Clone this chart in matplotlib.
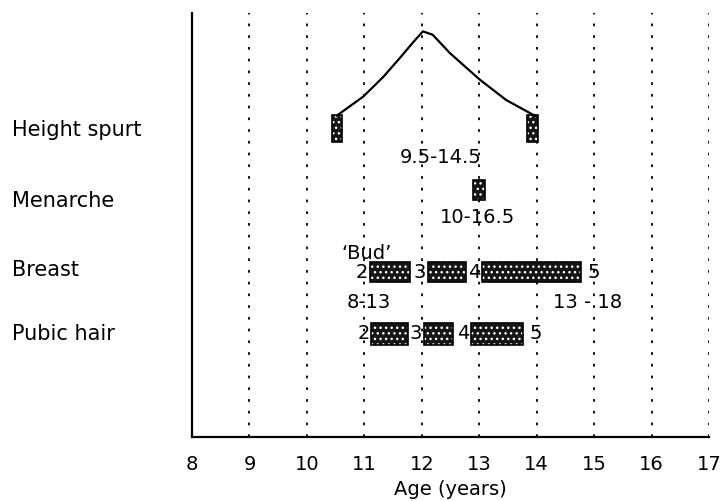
import matplotlib.pyplot as plt
import numpy as np

# rows (bottom to top)
rows = ['Pubic hair', 'Breast', 'Menarche', 'Height spurt']
ages = list(range(8, 18))

# height spurt: velocity curve and start/end bars
curve_age = [10.52, 10.98, 11.33, 11.62, 11.85, 12.02, 12.19, 12.49, 13.01, 13.47, 14.01]
curve_lvl = [4.24, 4.52, 4.81, 5.09, 5.32, 5.48, 5.43, 5.16, 4.77, 4.47, 4.22]
spurt_start = [10.43, 13.83]
spurt_end = [10.61, 14.02]

# menarche
men_start = [12.9]
men_end = [13.1]

# breast stages 2-5
breast_start = [11.1, 12.1, 13.05]
breast_end = [11.8, 12.77, 14.78]
breast_stage = ['2', '3', '4', '5']

# pubic hair stages 2-5
pubic_start = [11.12, 12.03, 12.86]
pubic_end = [11.76, 12.55, 13.77]
pubic_stage = ['2', '3', '4', '5']

plt.rcParams['font.family'] = ['DejaVu Sans']
fig = plt.figure(figsize=(7.2, 5.01), dpi=100)
ax = fig.add_axes([192/720, 1-437/501, 517/720, 424/501])
ax.set_xlim(8, 17)
ax.set_ylim(-0.485, 5.75)

# dotted verticals
ax.vlines(ages[1:], -0.485, 5.75, colors='black', linestyles=(0, (1.5, 5)), lw=1.3)


def bars(starts, ends, y, h):
    s = np.array(starts)
    w = np.array(ends) - s
    ax.barh([y]*len(s), w, left=s, height=h, color='#151515',
            edgecolor='white', hatch='...', lw=0, zorder=3)
    ax.barh([y]*len(s), w, left=s, height=h, color='none',
            edgecolor='black', lw=1.2, zorder=4)


bars(spurt_start, spurt_end, 4.05, 0.4)
bars(men_start, men_end, 3.15, 0.3)
bars(breast_start, breast_end, 1.94, 0.3)
bars(pubic_start, pubic_end, 1.03, 0.32)

ax.plot(curve_age, curve_lvl, color='black', lw=1.6, zorder=5)

fs = 14
# stage numbers
for starts, ends, stg, y in [(breast_start, breast_end, breast_stage, 1.94),
                             (pubic_start, pubic_end, pubic_stage, 1.03)]:
    for s, lab in zip(starts, stg[:3]):
        ax.text(s - 0.03, y, lab, ha='right', va='center', fontsize=fs, zorder=6)
    ax.text(ends[-1] + 0.1, y, stg[3], ha='left', va='center', fontsize=fs)

ax.text(12.33, 3.62, '9.5-14.5', ha='center', va='center', fontsize=fs)
ax.text(12.97, 2.75, '10-16.5', ha='center', va='center', fontsize=fs)
ax.text(11.04, 2.22, '\u2018Bud\u2019', ha='center', va='center', fontsize=fs)
ax.text(11.08, 1.5, '8-13', ha='center', va='center', fontsize=fs)
ax.text(14.89, 1.5, '13 - 18', ha='center', va='center', fontsize=fs)

# row labels
for lab, y in zip(rows, [1.03, 1.97, 2.99, 4.03]):
    ax.text(-0.348, y, lab, transform=ax.get_yaxis_transform(),
            ha='left', va='center', fontsize=15)

ax.spines['top'].set_visible(False)
ax.spines['right'].set_visible(False)
ax.spines['left'].set_linewidth(1.6)
ax.spines['bottom'].set_linewidth(1.6)
ax.set_yticks([])
ax.set_xticks(ages)
ax.tick_params(axis='x', length=0, pad=13, labelsize=fs)
ax.set_xlabel('Age (years)', fontsize=fs, labelpad=4)

fig.savefig('out.png', dpi=100)
